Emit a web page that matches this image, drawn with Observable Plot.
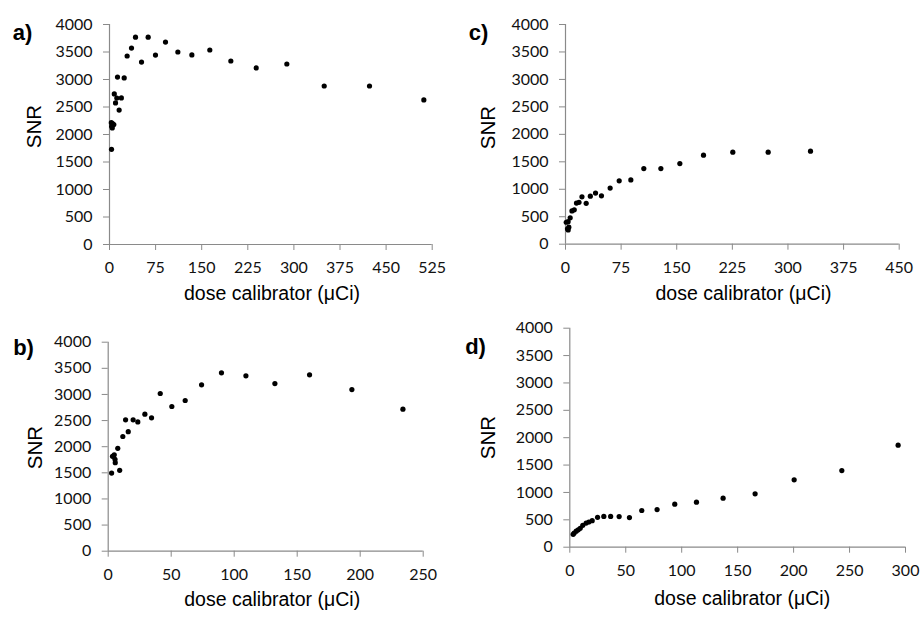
<!DOCTYPE html>
<html>
<head>
<meta charset="utf-8">
<script src="https://cdn.jsdelivr.net/npm/d3@7"></script>
<script src="https://cdn.jsdelivr.net/npm/@observablehq/plot@0.6"></script>
<style>
  html, body { margin: 0; padding: 0; background: #fff; }
  #wrap { position: relative; width: 921px; height: 618px; background: #fff; overflow: hidden; }
  .panel { position: absolute; }
</style>
</head>
<body>
<div id="wrap"></div>
<script>
// ---- Data ----
const snrTicks = [0, 500, 1000, 1500, 2000, 2500, 3000, 3500, 4000];

const aTicks = [0, 75, 150, 225, 300, 375, 450, 525];
const aDose = [3.3, 3, 5, 7, 3.5, 4.5, 7.8, 9.8, 11.9, 19.3, 15.7, 13, 23.9, 28.7, 35.8, 42.3, 52.1, 62.9, 74.8, 91.1, 111.2, 134, 163.2, 197.4, 238.6, 288.5, 349.3, 423, 511.4];
const aSNR  = [1730, 2215, 2200, 2180, 2150, 2120, 2738, 2575, 2662, 2665, 2444, 3045, 3028, 3427, 3572, 3770, 3316, 3770, 3444, 3680, 3500, 3446, 3536, 3336, 3210, 3282, 2882, 2882, 2628];

const bTicks = [0, 50, 100, 150, 200, 250];
const bDose = [2.7, 9.1, 3.4, 4.8, 5.4, 5.6, 7.6, 11.6, 15.9, 13.8, 19.8, 23.5, 29.1, 34.4, 41.3, 50.5, 61.1, 74.1, 89.9, 109.3, 132.3, 159.8, 193.4, 233.9];
const bSNR  = [1495, 1548, 1815, 1845, 1760, 1695, 1968, 2195, 2288, 2514, 2514, 2475, 2622, 2552, 3018, 2769, 2884, 3184, 3413, 3356, 3209, 3375, 3094, 2718];

const cTicks = [0, 75, 150, 225, 300, 375, 450];
const cDose = [1, 3.5, 6.3, 4.5, 2.7, 3.6, 8.7, 11.8, 14.8, 18.2, 22.2, 27.9, 33.5, 40.5, 48.5, 60.2, 72.4, 88.1, 105.6, 128.6, 154.2, 186.1, 225.6, 273.3, 330.4];
const cSNR  = [400, 410, 480, 310, 280, 260, 605, 625, 748, 762, 862, 745, 874, 930, 880, 1022, 1153, 1171, 1377, 1377, 1468, 1620, 1675, 1675, 1693];

const dTicks = [0, 50, 100, 150, 200, 250, 300];
const dDose = [3, 3.9, 5.7, 7.5, 9.3, 11.6, 14.6, 17, 20, 24.8, 30.4, 36.5, 44.1, 53.3, 64.3, 78, 93.8, 113.2, 137, 165.6, 200.5, 243.1, 293.4];
const dSNR  = [235, 258, 292, 317, 345, 400, 440, 460, 485, 545, 562, 563, 560, 542, 670, 688, 785, 822, 895, 974, 1230, 1400, 1863];

const letters = ["a)", "b)", "c)", "d)"];
const xTitle = "dose calibrator (\u03BCCi)";
const yTitle = "SNR";

// ---- Drawing ----
const axisGray = "#8a8a8a";
const wrap = document.getElementById("wrap");

function panel(cfg) {
  const data = cfg.dose.map((d, i) => ({dose: d, snr: cfg.snr[i]}));
  const {width, height, mt, mr, mb, ml} = cfg;
  const frameMidY = (mt + height - mb) / 2;
  const frameMidX = (ml + width - mr) / 2;
  const chart = Plot.plot({
    width, height,
    marginTop: mt, marginRight: mr, marginBottom: mb, marginLeft: ml,
    style: {fontFamily: "Lato, sans-serif", fontSize: "16px", color: "#111", background: "transparent", overflow: "visible"},
    x: {domain: [0, cfg.ticks[cfg.ticks.length - 1]]},
    y: {domain: [0, 4000]},
    marks: [
      Plot.ruleY([0], {stroke: axisGray, strokeWidth: 1.2}),
      Plot.ruleX([0], {stroke: axisGray, strokeWidth: 1.2}),
      Plot.axisX({ticks: cfg.ticks, tickSize: 6, tickPadding: 11, stroke: axisGray, fill: "#111", label: null, tickFormat: d => String(d)}),
      Plot.axisY({ticks: snrTicks, tickSize: 6, tickPadding: 11, stroke: axisGray, fill: "#111", label: null, tickFormat: d => String(d)}),
      Plot.dot(data, {x: "dose", y: "snr", r: 2.6, fill: "#000", stroke: null}),
      Plot.text([cfg.letter], {frameAnchor: "top-left", dx: cfg.letterX - ml, dy: cfg.letterY - mt, text: d => d,
        fontFamily: "Liberation Sans, Arial, sans-serif", fontWeight: "bold", fontSize: 22, fill: "#000", textAnchor: "middle"}),
      Plot.text([yTitle], {frameAnchor: "left", dx: cfg.snrX - ml, dy: cfg.snrY - frameMidY, rotate: -90, text: d => d,
        fontFamily: "Liberation Sans, Arial, sans-serif", fontSize: 20.5, fill: "#000", textAnchor: "middle"}),
      Plot.text([xTitle], {frameAnchor: "bottom", dx: cfg.titleX - frameMidX, dy: cfg.titleY - (height - mb), text: d => d,
        fontFamily: "Liberation Sans, Arial, sans-serif", fontSize: 19.5, fill: "#000", textAnchor: "middle"})
    ]
  });
  const holder = document.createElement("div");
  holder.className = "panel";
  holder.style.left = cfg.left + "px";
  holder.style.top = cfg.top + "px";
  holder.appendChild(chart);
  wrap.appendChild(holder);
}

panel({left: 0, top: 0, width: 460, height: 300, mt: 24, mr: 28.3, mb: 56, ml: 109,
  ticks: aTicks, dose: aDose, snr: aSNR, letter: letters[0],
  letterX: 22, letterY: 24, snrX: 34, snrY: 126, titleX: 271.5, titleY: 299});
panel({left: 0, top: 300, width: 460, height: 318, mt: 41.7, mr: 37.3, mb: 67.3, ml: 107.7,
  ticks: bTicks, dose: bDose, snr: bSNR, letter: letters[1],
  letterX: 23, letterY: 39, snrX: 35, snrY: 147, titleX: 271.7, titleY: 305});
panel({left: 460, top: 0, width: 461, height: 300, mt: 24, mr: 22.3, mb: 56.3, ml: 105,
  ticks: cTicks, dose: cDose, snr: cSNR, letter: letters[2],
  letterX: 18, letterY: 24, snrX: 28, snrY: 127, titleX: 283, titleY: 299});
panel({left: 460, top: 300, width: 461, height: 318, mt: 27.7, mr: 16, mb: 71.3, ml: 109.3,
  ticks: dTicks, dose: dDose, snr: dSNR, letter: letters[3],
  letterX: 15, letterY: 38, snrX: 28, snrY: 137, titleX: 281.7, titleY: 304});
</script>
</body>
</html>
